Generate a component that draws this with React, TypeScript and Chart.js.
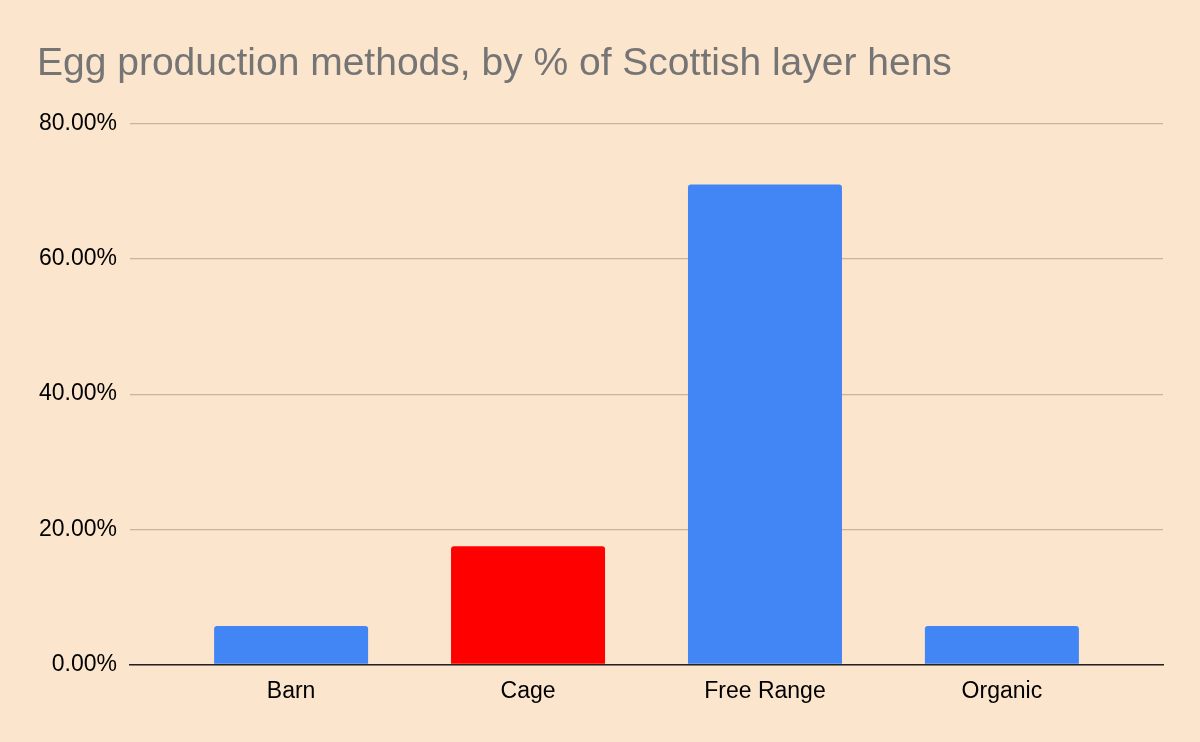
import { useEffect, useRef } from "react";
import { Chart, registerables } from "chart.js";

Chart.register(...registerables);

const categories = ["Barn", "Cage", "Free Range", "Organic"];
const shares = [5.7, 17.5, 71.0, 5.7];
const barColors = ["#4285F4", "#FF0000", "#4285F4", "#4285F4"];
const yTicks = [0, 20, 40, 60, 80];

const FONT = "Arial, 'Liberation Sans', sans-serif";

export default function App() {
  const canvasRef = useRef<HTMLCanvasElement>(null);

  useEffect(() => {
    if (!canvasRef.current) return;

    const chart = new Chart(canvasRef.current, {
      type: "bar",
      data: {
        datasets: [
          {
            label: "Share of layer hens",
            data: shares.map((v, i) => ({ x: i, y: v })),
            backgroundColor: barColors,
            borderWidth: 0,
            borderRadius: { topLeft: 3, topRight: 3, bottomLeft: 0, bottomRight: 0 },
            borderSkipped: "start",
            barPercentage: 0.65,
            categoryPercentage: 1,
          },
        ],
      },
      options: {
        animation: false,
        responsive: true,
        maintainAspectRatio: false,
        layout: { padding: { top: 38, left: 37, right: 37, bottom: 24 } },
        plugins: {
          legend: { display: false },
          tooltip: { enabled: false },
          title: {
            display: true,
            text: "Egg production methods, by % of Scottish layer hens",
            align: "start",
            color: "#757575",
            font: { family: FONT, size: 39, weight: "normal" },
            padding: { top: 3, bottom: 36 },
          },
        },
        scales: {
          x: {
            type: "linear",
            offset: false,
            min: -0.68,
            max: categories.length - 1 + 0.68,
            afterBuildTicks: (scale) => {
              scale.ticks = categories.map((_, i) => ({ value: i }));
            },
            grid: { display: false, drawTicks: false, offset: false },
            border: { display: true, color: "#222222", width: 1.5 },
            ticks: {
              autoSkip: false,
              maxRotation: 0,
              padding: 13,
              color: "#000000",
              font: { family: FONT, size: 23 },
              callback: (v) => categories[Number(v)] ?? "",
            },
          },
          y: {
            min: 0,
            max: 80,
            afterBuildTicks: (scale) => {
              scale.ticks = yTicks.map((v) => ({ value: v }));
            },
            afterFit: (scale) => {
              scale.width = 93;
            },
            grid: { color: "#C9B49C", lineWidth: 1.2, drawTicks: false },
            border: { display: false },
            ticks: {
              padding: 13,
              color: "#000000",
              font: { family: FONT, size: 23 },
              callback: (v) => `${Number(v).toFixed(2)}%`,
            },
          },
        },
      },
    });

    return () => chart.destroy();
  }, []);

  return (
    <div
      style={{
        position: "fixed",
        left: 0,
        top: 0,
        width: 1200,
        height: 742,
        background: "#FCE5CD",
      }}
    >
      <canvas ref={canvasRef} />
    </div>
  );
}
